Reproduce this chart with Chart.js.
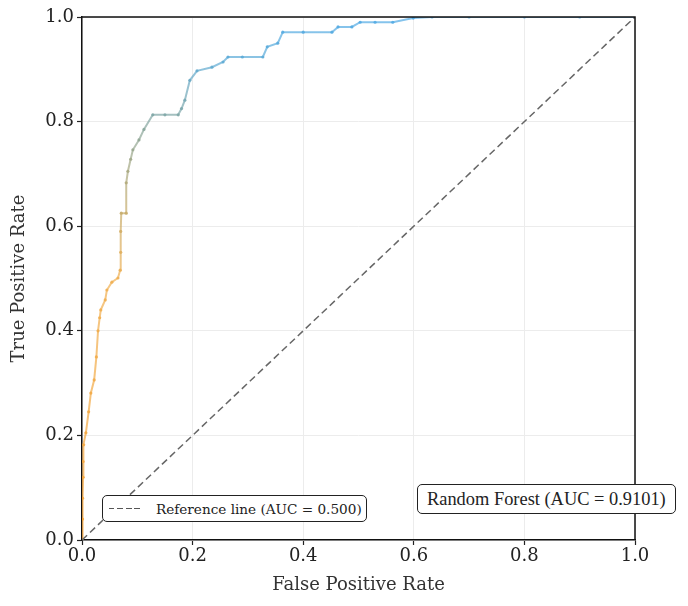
<!DOCTYPE html>
<html>
<head>
<meta charset="utf-8">
<script src="https://cdn.jsdelivr.net/npm/chart.js@4.4.0/dist/chart.umd.min.js"></script>
<style>
  body { margin: 0; background: #fff; }
  .wrap { position: relative; width: 688px; height: 606px; }
  .legend-box {
    position: absolute;
    background: #fff;
    border: 1.5px solid #222;
    border-radius: 5px;
    color: #222;
    box-sizing: border-box;
    display: flex;
    align-items: center;
  }
  #refBox { left: 102px; top: 495px; width: 265px; height: 27px; font-family: 'DejaVu Serif', serif; font-size: 13.6px; }
  #refBox .dash { width: 31px; height: 1.6px; background: repeating-linear-gradient(to right, #555 0 5.5px, transparent 5.5px 8.5px); margin: 0 16px 0 6px; }
  #rfBox { left: 417px; top: 484px; width: 259px; height: 30px; font-family: 'Liberation Serif', serif; font-size: 18.4px; padding-left: 9px; }
</style>
</head>
<body>
<div class="wrap">
  <canvas id="rocChart" width="688" height="606"></canvas>
  <div class="legend-box" id="refBox"><span class="dash"></span><span>Reference line (AUC = 0.500)</span></div>
  <div class="legend-box" id="rfBox">Random Forest (AUC = 0.9101)</div>
</div>
<script>
// ROC curve points
const fprValues = [0, 0.001, 0.001, 0.002, 0.002, 0.003, 0.007, 0.012, 0.016, 0.022, 0.026, 0.029, 0.032, 0.034, 0.042, 0.045, 0.054, 0.065, 0.069, 0.070, 0.070, 0.071, 0.080, 0.080, 0.083, 0.088, 0.092, 0.103, 0.112, 0.128, 0.150, 0.174, 0.180, 0.186, 0.195, 0.208, 0.235, 0.255, 0.264, 0.290, 0.327, 0.335, 0.354, 0.363, 0.400, 0.452, 0.463, 0.488, 0.503, 0.530, 0.562, 0.599, 0.633, 0.700, 0.800, 0.900, 1.0];
const tprValues = [0, 0.04, 0.08, 0.12, 0.15, 0.182, 0.205, 0.245, 0.281, 0.306, 0.35, 0.40, 0.425, 0.44, 0.459, 0.478, 0.493, 0.501, 0.516, 0.55, 0.59, 0.625, 0.625, 0.683, 0.705, 0.728, 0.746, 0.765, 0.785, 0.813, 0.813, 0.813, 0.825, 0.841, 0.879, 0.897, 0.904, 0.914, 0.9235, 0.9235, 0.9235, 0.943, 0.950, 0.971, 0.971, 0.971, 0.981, 0.981, 0.990, 0.990, 0.990, 0.998, 1.0, 1.0, 1.0, 1.0, 1.0];
const refLine = [0, 1];
const tickValues = [0, 0.2, 0.4, 0.6, 0.8, 1.0];

const rocPoints = fprValues.map((x, i) => ({ x: x, y: tprValues[i] }));
const refPoints = refLine.map(v => ({ x: v, y: v }));

function curveGradient(context, alpha) {
  const chart = context.chart;
  const area = chart.chartArea;
  if (!area) return 'rgba(240,160,60,' + alpha + ')';
  const g = chart.ctx.createLinearGradient(0, area.bottom, 0, area.top);
  g.addColorStop(0, 'rgba(245,160,50,' + alpha + ')');
  g.addColorStop(0.5, 'rgba(240,175,80,' + alpha + ')');
  g.addColorStop(0.65, 'rgba(190,170,110,' + alpha + ')');
  g.addColorStop(0.8, 'rgba(130,165,160,' + alpha + ')');
  g.addColorStop(0.92, 'rgba(90,170,215,' + alpha + ')');
  g.addColorStop(1, 'rgba(80,170,230,' + alpha + ')');
  return g;
}

const axisFont = { family: 'DejaVu Serif', size: 18 };
const titleFont = { family: 'DejaVu Serif', size: 18 };

// draws the top and right sides of the frame
const frameBox = {
  id: 'frameBox',
  afterDraw(chart) {
    const { ctx, chartArea } = chart;
    ctx.save();
    ctx.strokeStyle = '#111';
    ctx.lineWidth = 1.5;
    ctx.beginPath();
    ctx.moveTo(chartArea.left, chartArea.top);
    ctx.lineTo(chartArea.right, chartArea.top);
    ctx.lineTo(chartArea.right, chartArea.bottom);
    ctx.stroke();
    ctx.restore();
  }
};

new Chart(document.getElementById('rocChart').getContext('2d'), {
  type: 'line',
  data: {
    datasets: [{
      label: 'Reference line (AUC = 0.500)',
      data: refPoints,
      borderColor: '#666',
      borderWidth: 1.5,
      borderDash: [7, 4],
      pointRadius: 0,
      fill: false
    }, {
      label: 'Random Forest (AUC = 0.9101)',
      data: rocPoints,
      borderColor: ctx => curveGradient(ctx, 0.7),
      borderWidth: 2,
      pointRadius: 1.6,
      pointBorderWidth: 0,
      pointBackgroundColor: ctx => curveGradient(ctx, 0.85),
      tension: 0,
      fill: false
    }]
  },
  options: {
    responsive: false,
    animation: false,
    layout: { padding: { left: 8, right: 53, top: 17, bottom: 10 } },
    plugins: {
      legend: { display: false },
      tooltip: { enabled: false }
    },
    scales: {
      x: {
        type: 'linear',
        min: 0,
        max: 1,
        afterBuildTicks: axis => { axis.ticks = tickValues.map(v => ({ value: v })); },
        afterFit: axis => { axis.height = 56; },
        ticks: {
          font: axisFont,
          color: '#222',
          padding: 1,
          callback: v => v.toFixed(1)
        },
        grid: { color: '#ececec', tickColor: '#222', tickLength: 5, tickWidth: 1.2 },
        border: { color: '#111', width: 1.5 },
        title: { display: true, text: 'False Positive Rate', font: titleFont, color: '#333', padding: { top: 0, bottom: 0 } }
      },
      y: {
        type: 'linear',
        min: 0,
        max: 1,
        afterBuildTicks: axis => { axis.ticks = tickValues.map(v => ({ value: v })); },
        afterFit: axis => { axis.width = 74; },
        ticks: {
          font: axisFont,
          color: '#222',
          padding: 3,
          callback: v => v.toFixed(1)
        },
        grid: { color: '#ececec', tickColor: '#222', tickLength: 5, tickWidth: 1.2 },
        border: { color: '#111', width: 1.5 },
        title: { display: true, text: 'True Positive Rate', font: titleFont, color: '#333', padding: { top: 1, bottom: 0 } }
      }
    }
  },
  plugins: [frameBox]
});
</script>
</body>
</html>
